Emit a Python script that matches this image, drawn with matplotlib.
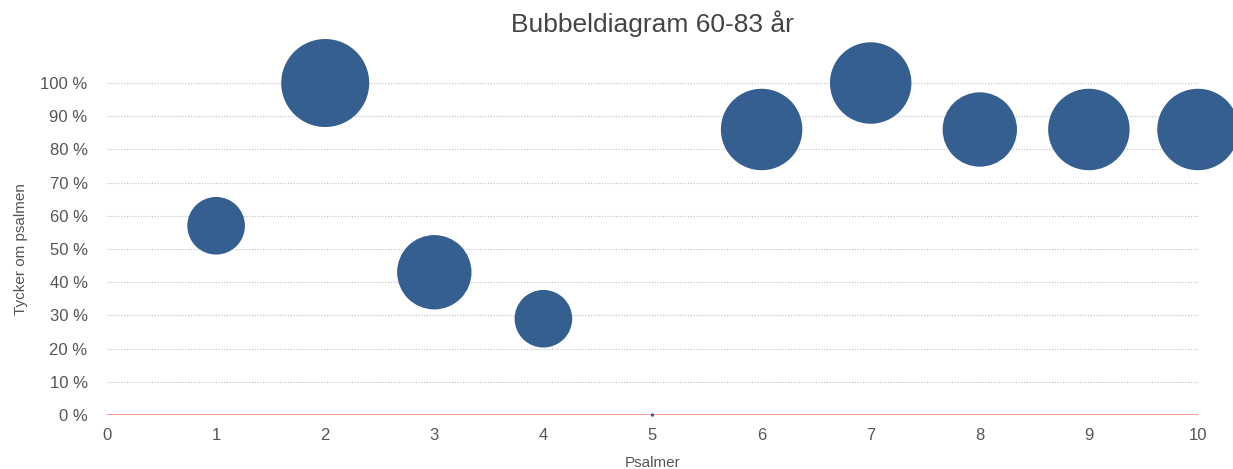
import matplotlib
matplotlib.use("Agg")
import matplotlib.pyplot as plt
from matplotlib.ticker import FuncFormatter

psalmer = [1, 2, 3, 4, 5, 6, 7, 8, 9, 10]
tycker_pct = [57, 100, 43, 29, 0, 86, 100, 86, 86, 86]
antal = [3, 7, 5, 3, 0, 6, 6, 5, 6, 6]

plt.rcParams['font.family'] = ['Liberation Sans', 'DejaVu Sans']

fig = plt.figure(figsize=(12.33, 4.69), dpi=100)
ax = fig.add_axes([0.0868, 0.1151, 0.8848, 0.7079])

max_s = 4014
sizes = [max(a / max(antal) * max_s, 6) for a in antal]
ax.scatter(psalmer, tycker_pct, s=sizes, color='#365f91', edgecolors='none',
           clip_on=False, zorder=3)

ax.set_xlim(0, 10)
ax.set_ylim(0, 100)
ax.set_xticks(range(0, 11))
ax.set_yticks(range(0, 101, 10))
ax.yaxis.set_major_formatter(FuncFormatter(lambda v, p: f"{int(v)} %"))

for s in ax.spines.values():
    s.set_visible(False)
ax.axhline(0, color='#f08a75', lw=1.2, zorder=2)
for y in range(10, 101, 10):
    ax.axhline(y, color='#bdbdbd', lw=0.8, ls=(0, (1, 1.5)), zorder=1)

ax.tick_params(axis='both', length=0, colors='#555555', labelsize=12)
ax.tick_params(axis='y', pad=14)
ax.tick_params(axis='x', pad=9)

ax.set_title('Bubbeldiagram 60-83 år', fontsize=19, color='#444444', pad=37)
ax.set_xlabel('Psalmer', fontsize=11, color='#555555', labelpad=10)
ax.set_ylabel('Tycker om psalmen', fontsize=11, color='#555555', labelpad=9)

fig.savefig('out.png', dpi=100)
